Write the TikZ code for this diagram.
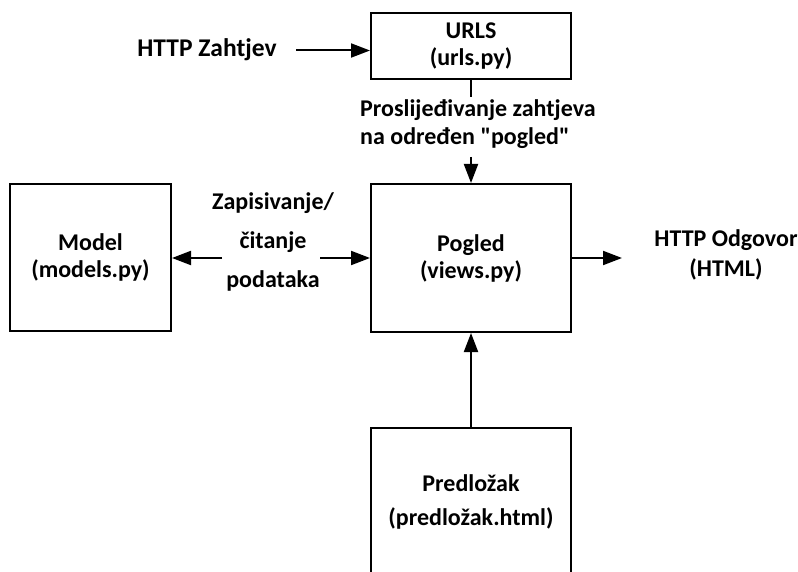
\documentclass[tikz,border=0pt]{standalone}
\usepackage{fontspec}
\setmainfont{Carlito}[Ligatures=TeXOff]
\usetikzlibrary{arrows.meta}
\begin{document}
\begin{tikzpicture}[x=1pt,y=-1pt,
  box/.style={draw, line width=2pt, minimum width=200pt, minimum height=148pt, inner sep=0pt, align=center},
  lbl/.style={inner sep=0pt, align=center},
  bf/.style={font=\fontsize{24}{#1}\selectfont\bfseries},
  arr/.style={line width=2pt, -{Triangle[length=19pt,width=14pt]}},
  ln/.style={line width=2pt}
]
\clip (0,0) rectangle (798,572);
\fill[white] (0,0) rectangle (798,572);
% boxes
\node[box, bf=27, minimum height=66pt] (urls) at (471,46) {URLS\\(urls.py)};
\node[box, bf=27] (pogled) at (471,258) {Pogled\\(views.py)};
\node[box, bf=27, minimum width=161pt, minimum height=147pt] (model) at (90.5,257.5) {Model\\(models.py)};
\node[box, bf=34] (predlozak) at (471,502) {Predložak\\(predložak.html)};
% labels
\node[lbl, font=\fontsize{25.5}{28}\selectfont\bfseries] (zahtjev) at (207,50) {HTTP Zahtjev};
\node[lbl, bf=28, align=left, anchor=west] (prosl) at (360,124) {Proslijeđivanje zahtjeva\\na određen "pogled"};
\node[lbl, bf=39] (zap) at (273,242) {Zapisivanje/\\čitanje\\podataka};
\node[lbl, bf=30] (odgovor) at (726,255) {HTTP Odgovor\\(HTML)};
% free ends
\coordinate (zahtjevEnd) at (296,50.5);
\coordinate (proslTop) at (471,97);
\coordinate (proslBot) at (471,157);
\coordinate (zapL) at (222,258);
\coordinate (zapR) at (320,258);
\coordinate (odgEnd) at (622,258);
% connectors
\draw[arr] (zahtjevEnd) -- (urls.west |- zahtjevEnd);
\draw[ln] (urls.south) -- (proslTop);
\draw[arr] (proslBot) -- (pogled.north);
\draw[arr] (zapL) -- (model.east |- zapL);
\draw[arr] (zapR) -- (pogled.west |- zapR);
\draw[arr] (pogled.east) -- (odgEnd);
\draw[arr] (predlozak.north) -- (pogled.south);
\end{tikzpicture}
\end{document}
